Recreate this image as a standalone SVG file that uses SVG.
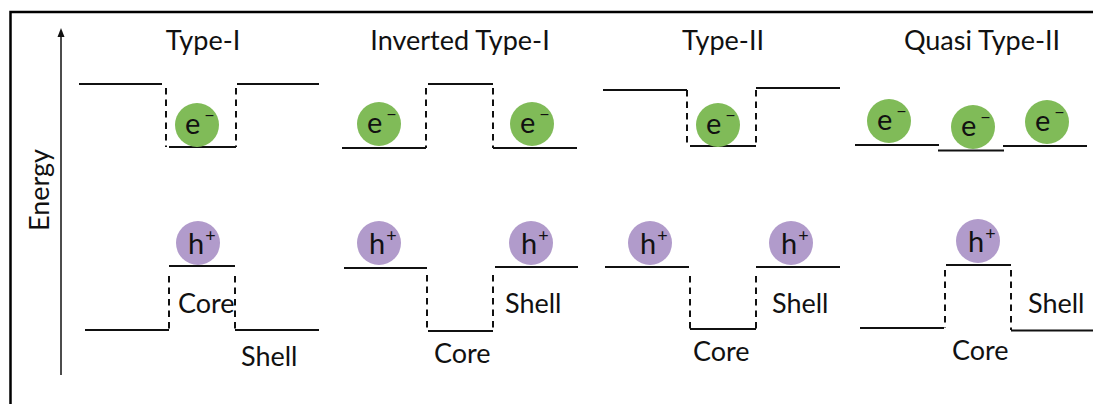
<svg xmlns="http://www.w3.org/2000/svg" width="1093" height="404" viewBox="0 0 1093 404">
<style>
.lvl{stroke:#111;stroke-width:2;fill:none}
.dash{stroke:#111;stroke-width:2;fill:none;stroke-dasharray:6.5 5}
.lbl{font-family:Lato,"Liberation Sans",sans-serif;font-size:27px;fill:#111}
.pt{font-family:Lato,"Liberation Sans",sans-serif;font-size:29px;fill:#111}
.title{font-family:Lato,"Liberation Sans",sans-serif;font-size:27px;fill:#111;text-anchor:middle}
.el{fill:#80bb58}
.ho{fill:#b19bcb}
.sup{font-size:18px}
</style>
<rect width="1093" height="404" fill="#fff"/>
<g id="frame">
<path d="M10.5,404 L10.5,12 L1093,12" stroke="#000" stroke-width="2.5" fill="none"/>
</g>
<g id="energy-axis">
<line x1="61" y1="375" x2="61" y2="36" stroke="#111" stroke-width="1.5"/>
<path d="M61,28 L57.5,37 L64.5,37 Z" fill="#111"/>
<text class="lbl" transform="translate(49,190) rotate(-90)" text-anchor="middle">Energy</text>
</g>

<g id="type-I">
<text class="title" x="203" y="50">Type-I</text>
<path class="lvl" d="M79,84 H162 M169,147 H236 M237,84 H319 M85,330 H169 M169,266 H235 M235,330 H319"/>
<path class="dash" d="M166,88 V147 M236,88 V147 M169,276 V330 M235,276 V330"/>
<circle class="el" cx="197" cy="125" r="22"/>
<text class="pt" x="185" y="134">e<tspan class="sup" dx="4" dy="-13">−</tspan></text>
<circle class="ho" cx="198" cy="243" r="22"/>
<text class="pt" x="188" y="254">h<tspan class="sup" dx="1" dy="-12">+</tspan></text>
<text class="lbl" x="178" y="313">Core</text>
<text class="lbl" x="241" y="366">Shell</text>
</g>

<g id="inverted-type-I">
<text class="title" x="460" y="50">Inverted Type-I</text>
<path class="lvl" d="M342,148 H426 M428,84 H493 M493,148 H577 M344,268 H427 M428,331 H493 M495,267 H578"/>
<path class="dash" d="M426,88 V148 M493,88 V148 M427,275 V331 M493,275 V331"/>
<circle class="el" cx="379" cy="124" r="22"/>
<text class="pt" x="367" y="133">e<tspan class="sup" dx="4" dy="-13">−</tspan></text>
<circle class="el" cx="532" cy="124" r="22"/>
<text class="pt" x="520" y="133">e<tspan class="sup" dx="4" dy="-13">−</tspan></text>
<circle class="ho" cx="379" cy="243" r="22"/>
<text class="pt" x="369" y="254">h<tspan class="sup" dx="1" dy="-12">+</tspan></text>
<circle class="ho" cx="531" cy="243" r="22"/>
<text class="pt" x="521" y="254">h<tspan class="sup" dx="1" dy="-12">+</tspan></text>
<text class="lbl" x="505" y="313">Shell</text>
<text class="lbl" x="434" y="363">Core</text>
</g>

<g id="type-II">
<text class="title" x="723" y="50">Type-II</text>
<path class="lvl" d="M603,90 H687 M690,146 H756 M756,88 H840 M605,267 H689 M690,329 H756 M756,267 H840"/>
<path class="dash" d="M687,90 V146 M756,90 V146 M690,276 V329 M756,276 V329"/>
<circle class="el" cx="718" cy="125" r="22"/>
<text class="pt" x="706" y="134">e<tspan class="sup" dx="4" dy="-13">−</tspan></text>
<circle class="ho" cx="650" cy="243" r="22"/>
<text class="pt" x="640" y="254">h<tspan class="sup" dx="1" dy="-12">+</tspan></text>
<circle class="ho" cx="791" cy="243" r="22"/>
<text class="pt" x="781" y="254">h<tspan class="sup" dx="1" dy="-12">+</tspan></text>
<text class="lbl" x="772" y="313">Shell</text>
<text class="lbl" x="693" y="361">Core</text>
</g>

<g id="quasi-type-II">
<text class="title" x="982" y="50">Quasi Type-II</text>
<path class="lvl" d="M855,145 H939 M938,150.5 H1004 M1003,146 H1087 M860,328 H944 M946,265 H1011 M1011,330.5 H1093"/>
<path class="dash" d="M945,270 V328 M1011,270 V330"/>
<circle class="el" cx="889" cy="121" r="22"/>
<text class="pt" x="877" y="130">e<tspan class="sup" dx="4" dy="-13">−</tspan></text>
<circle class="el" cx="973" cy="127" r="22"/>
<text class="pt" x="961" y="136">e<tspan class="sup" dx="4" dy="-13">−</tspan></text>
<circle class="el" cx="1047" cy="122" r="22"/>
<text class="pt" x="1035" y="131">e<tspan class="sup" dx="4" dy="-13">−</tspan></text>
<circle class="ho" cx="978" cy="241" r="22"/>
<text class="pt" x="968" y="252">h<tspan class="sup" dx="1" dy="-12">+</tspan></text>
<text class="lbl" x="1028" y="313">Shell</text>
<text class="lbl" x="952" y="360">Core</text>
</g>
</svg>
